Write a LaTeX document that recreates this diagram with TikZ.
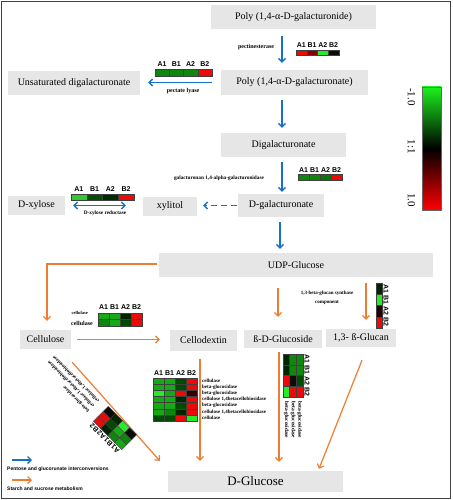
\documentclass[tikz,border=0pt]{standalone}
\usepackage{fontspec}
\setmainfont{Liberation Serif}
\newfontfamily\arialf{Liberation Sans}
\usetikzlibrary{arrows.meta}
\definecolor{boxgray}{RGB}{230,230,230}
\definecolor{blu}{RGB}{20,115,200}
\definecolor{org}{RGB}{237,125,49}
\definecolor{rd}{RGB}{235,10,10}
\definecolor{dr}{RGB}{140,0,0}
\definecolor{vdr}{RGB}{55,0,0}
\definecolor{hg}{RGB}{40,235,40}
\definecolor{lg}{RGB}{50,200,50}
\definecolor{mg}{RGB}{20,170,20}
\definecolor{gg}{RGB}{15,135,15}
\definecolor{dg}{RGB}{0,75,0}
\definecolor{vdg}{RGB}{0,38,0}
\definecolor{blk}{RGB}{12,12,12}
\newcommand\heatcells[5]{%
  \foreach \rw [count=\r from 0] in {#5} {
    \foreach \cl [count=\c from 0] in \rw {
      \draw[cell, fill=\cl] ({#1+\c*#3},{#2+\r*#4}) rectangle ++(#3,#4);
    }
  }%
}
\newcommand\heatlabs[5]{%
  \foreach \lb [count=\c from 0] in {A1,B1,A2,B2}
    \node[hl, #5] (#1\c) at ({#2+(\c+0.5)*#4},#3) {\lb};%
}
\begin{document}
\begin{tikzpicture}[x=1pt,y=-1pt,
  box/.style={fill=boxgray, inner sep=0pt, font=\fontsize{10}{12}\selectfont},
  cell/.style={draw=black!75, line width=0.35pt},
  hl/.style={font=\arialf\bfseries\fontsize{7}{7}\selectfont, inner sep=0pt},
  en/.style={font=\bfseries\fontsize{5.3}{6}\selectfont, inner sep=0pt},
  rl/.style={font=\bfseries\fontsize{5}{5}\selectfont, inner sep=0pt, anchor=west},
  bluearrow/.style={draw=blu, line width=1.4pt, -{Straight Barb[length=3.5pt,width=7pt]}},
  orgarrow/.style={draw=org, line width=1.2pt, -{Straight Barb[length=3.5pt,width=7pt]}},
  lgtext/.style={font=\arialf\bfseries\fontsize{5}{6}\selectfont, inner sep=0pt, anchor=west}
]
\useasboundingbox (0,0) rectangle (452,500);
\fill[white] (0,0) rectangle (452,500);
\draw[line width=1.5pt, black!75] (1.5,1.5) rectangle (450.5,498.5);

% nodes
\node[box, minimum width=165pt, minimum height=24pt] (n1) at (293.5,17) {Poly (1,4-α-D-galacturonide)};
\node[box, minimum width=147pt, minimum height=25pt] (n2) at (294.5,82.5) {Poly (1,4-α-D-galacturonate)};
\node[box, minimum width=132pt, minimum height=24pt] (n3) at (74,83) {Unsaturated digalacturonate};
\node[box, minimum width=125pt, minimum height=24pt] (n4) at (283.5,145) {Digalacturonate};
\node[box, minimum width=86pt, minimum height=23pt] (n5) at (281,205.5) {D-galacturonate};
\node[box, minimum width=54pt, minimum height=19pt] (n6) at (170,206.5) {xylitol};
\node[box, minimum width=57pt, minimum height=19pt] (n7) at (36.5,205.5) {D-xylose};
\node[box, minimum width=274pt, minimum height=24pt] (n8) at (296,265) {UDP-Glucose};
\node[box, minimum width=51pt, minimum height=19pt] (n9) at (45.5,339.5) {Cellulose};
\node[box, minimum width=67pt, minimum height=21pt] (n10) at (203.5,340.5) {Cellodextin};
\node[box, minimum width=78pt, minimum height=18pt] (n11) at (283,339) {ß-D-Glucoside};
\node[box, minimum width=70pt, minimum height=18pt] (n12) at (361,338) {1,3- ß-Glucan};
\node[box, minimum width=175pt, minimum height=21pt, font=\fontsize{13}{15}\selectfont] (n13) at (255.5,481.5) {D-Glucose};

% blue connectors
\coordinate (bx) at (282,0);
\draw[bluearrow, shorten <=7pt, shorten >=7pt] (n1.south -| bx) -- (n2.north -| bx);
\draw[bluearrow, shorten <=9pt, shorten >=8pt] (n2.west) -- (n2.west -| n3.east);
\draw[bluearrow, shorten <=5pt, shorten >=5pt] (n2.south -| bx) -- (n4.north -| bx);
\draw[bluearrow, shorten <=5pt, shorten >=2pt] (n4.south -| bx) -- (n5.north -| bx);
\draw[bluearrow, dash pattern=on 6pt off 4pt, shorten <=1pt, shorten >=6pt] (n5.west) -- (n5.west -| n6.east);
\draw[draw=blu, line width=1.4pt, {Straight Barb[length=3.5pt,width=7pt]}-{Straight Barb[length=3.5pt,width=7pt]}, shorten <=8pt, shorten >=17pt] (n7.east) -- (n7.east -| n6.west);
\draw[bluearrow, shorten <=5pt, shorten >=4pt] ([shift={(-1,0)}]n5.south) -- ([shift={(-1,0)}]n5.south |- n8.north);

% orange connectors
\draw[orgarrow, shorten <=2pt, shorten >=9pt] ([shift={(0,-1)}]n8.west) -| ([shift={(1.5,0)}]n9.north);
\draw[orgarrow, shorten <=6pt, shorten >=10pt] (n9.east) -- (n9.east -| n10.west);
\draw[orgarrow] ([shift={(1,13)}]n9.south east) -- ([shift={(-8,-10)}]n13.north west);
\draw[orgarrow, shorten <=8pt, shorten >=10pt] ([shift={(-3.5,0)}]n10.south) -- ([shift={(-3.5,0)}]n10.south |- n13.north);
\draw[orgarrow, shorten <=11pt, shorten >=13pt] ([shift={(-5,0)}]n11.north |- n8.south) -- ([shift={(-5,0)}]n11.north);
\draw[orgarrow, shorten <=6pt, shorten >=9pt] ([shift={(5,0)}]n12.north |- n8.south) -- ([shift={(5,0)}]n12.north);
\draw[orgarrow, shorten <=4pt, shorten >=9pt] ([shift={(-4,0)}]n11.south) -- ([shift={(-4,0)}]n11.south |- n13.north);
\draw[orgarrow] ([shift={(1,13)}]n12.south) -- ([shift={(63.5,-2)}]n13.north);

% enzyme labels
\node[en, font=\bfseries\fontsize{6}{7}\selectfont] (e1) at (256,47) {pectinesterase};
\node[en, font=\bfseries\fontsize{6}{7}\selectfont] (e2) at (183,91) {pectate lyase};
\node[en] (e3) at (219,178) {galacturonan 1,4-alpha-galacturonidase};
\node[en] (e4) at (105,213) {D-xylose reductase};
\node[en, font=\bfseries\fontsize{5}{9}\selectfont, align=center] (e5) at (327,297.5) {1,3-beta-glucan synthase\\component};
\node[en, font=\bfseries\fontsize{4.5}{5}\selectfont, anchor=east] (e6) at (88,313) {cellulase};
\node[en, font=\bfseries\fontsize{6}{7}\selectfont, anchor=east] (e7) at (93,323) {cellulase};

% HM1 pectinesterase
\heatcells{296}{50}{10.75}{5.5}{{rd,dr,hg,blk}}
\heatlabs{ha}{296}{45}{10.75}{}
% HM2 pectate lyase
\heatcells{155}{69}{14.25}{7}{{gg,gg,gg,rd}}
\heatlabs{hb}{155}{64.5}{14.25}{}
% HM3
\heatcells{298}{174}{11}{6}{{gg,gg,gg!85!black,rd}}
\heatlabs{hc}{298}{170}{11}{}
% HM4
\heatcells{71}{194}{15.75}{6}{{lg,dg!90!gg,vdg!80!dg,rd}}
\heatlabs{hd}{71}{189}{15.75}{}
% HM5 cellulase
\heatcells{98}{313}{11}{6.5}{{mg,mg,vdg,rd},{gg,mg,dg,rd}}
\heatlabs{he}{98}{307}{11}{}
% HM6 cellodextin
\heatcells{153}{378}{11}{6.15}{{mg,mg,dg,rd},{mg,mg,dg,rd},{hg,mg,rd,vdr},{mg,mg,vdg,rd},{mg,mg,dg,rd},{mg,gg,vdg,rd},{dg,dg,rd,hg}}
\heatlabs{hf}{153}{373}{11}{}
\node[rl] (f1) at (202,381) {cellulase};
\node[rl] (f2) at (202,387) {beta-glucosidase};
\node[rl] (f3) at (202,393) {beta-glucosidase};
\node[rl] (f4) at (202,399.5) {cellulose 1,4betacellobiosidase};
\node[rl] (f5) at (202,405.5) {beta-glucosidase};
\node[rl] (f6) at (202,412) {cellulose 1,4betacellobiosidase};
\node[rl] (f7) at (202,418) {cellulase};

% HM7 beta-D-glucoside (rotated)
\begin{scope}[shift={(303,354)}, rotate=-90, transform shape]
\heatcells{0}{0}{10.75}{6.67}{{gg,gg,dg,rd},{gg,gg,blk,rd},{vdg,vdg,rd,hg}}
\heatlabs{hg}{0}{-4}{10.75}{}
\node[rl, font=\bfseries\fontsize{5.3}{6}\selectfont] (g1) at (47,3.3) {beta-glucosidase};
\node[rl, font=\bfseries\fontsize{5.3}{6}\selectfont] (g2) at (47,10) {beta-glucosidase};
\node[rl, font=\bfseries\fontsize{5.3}{6}\selectfont] (g3) at (47,16.7) {beta-glucosidase};
\end{scope}

% HM8 1,3-beta-glucan (rotated)
\begin{scope}[shift={(382,283)}, rotate=-90, transform shape]
\heatcells{0}{0}{11.25}{6}{{vdg,hg,vdr!60!black,rd}}
\heatlabs{hh}{0}{-4}{11.25}{}
\end{scope}

% HM9 diagonal
\begin{scope}[shift={(121.7,449.6)}, rotate=135, transform shape]
\heatcells{0}{0}{10}{7}{{mg,gg,vdg,rd},{gg,mg,dg,rd},{blk,hg,vdg,blk}}
\heatlabs{hi}{0}{-4}{10}{}
\node[rl] (i1) at (50,3.5) {beta-glucosidase};
\node[rl] (i2) at (50,10.5) {cellulase 1,4betacellobiosidase};
\node[rl] (i3) at (50,17.5) {cellulase 1,4betacellobiosidase};
\end{scope}

% colour scale
\shade[top color=hg!70!green, bottom color=red, middle color=black] (422,87) rectangle (441,210);
\draw[black!60, line width=0.4pt] (422,87) rectangle (441,210);
\node[rotate=-90, font=\fontsize{11}{12}\selectfont, inner sep=0pt] (s1) at (411.5,97) {-1.0};
\node[rotate=-90, font=\fontsize{11}{12}\selectfont, inner sep=0pt] (s2) at (411.5,147) {1:1};
\node[rotate=-90, font=\fontsize{11}{12}\selectfont, inner sep=0pt] (s3) at (411.5,200) {1.0};

% legend
\coordinate (lb1) at (12,460);
\coordinate (lb2) at (32,460);
\coordinate (lo1) at (12,480);
\coordinate (lo2) at (32,480);
\draw[bluearrow] (lb1) -- (lb2);
\draw[orgarrow] (lo1) -- (lo2);
\node[lgtext] (t1) at (7,469) {Pentose and glucorunate interconversions};
\node[lgtext] (t2) at (7,489) {Starch and sucrose metabolism};
\end{tikzpicture}
\end{document}
